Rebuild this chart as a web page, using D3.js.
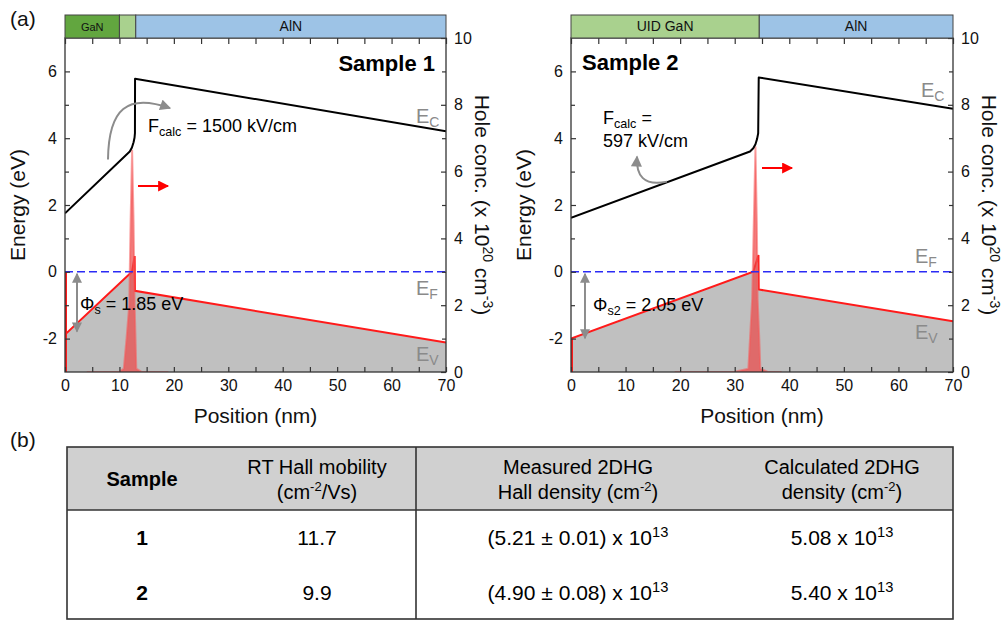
<!DOCTYPE html>
<html><head><meta charset="utf-8">
<script src="https://cdn.jsdelivr.net/npm/d3@7"></script>
<style>body{margin:0;background:#fff} svg{display:block} text{font-family:"Liberation Sans",Arial,Helvetica,sans-serif}</style>
</head><body><svg id="c" width="1003" height="620"></svg>
<script>
// ---------- DATA ----------
const xTicks=[0,10,20,30,40,50,60,70];
const xMinor=[5,15,25,35,45,55,65];
const eTicks=[-2,0,2,4,6];
const eMinor=[-1,1,3,5];
const hTicks=[0,2,4,6,8,10];
const hMinor=[1,3,5,7,9];

// Sample 1
const s1EcX=[0,11.9,12.3,12.6,12.78,12.85,12.87,70];
const s1EcY=[1.75,3.6,3.72,3.88,4.02,4.15,5.78,4.21];
const s1EvX=[0,12.3,12.8,12.85,70];
const s1EvY=[-1.88,0,0.47,-0.57,-2.12];
const s1HoleX=[4,10,10.8,11.3,11.8,12.05,12.33,12.6,12.8,12.96,13.1,14,19];
const s1HoleY=[0,0.01,0.1,1.0,2.0,4.5,6.65,4.5,2.0,1.0,0.1,0.01,0];
const s1HoleSurface=3.0;
const s1LayerNames=["GaN","","AlN"];
const s1LayerStart=[0,10,13];
const s1LayerEnd=[10,13,70];

// Sample 2
const s2EcX=[0,32.8,33.4,33.8,34.1,34.3,34.4,70];
const s2EcY=[1.62,3.6,3.7,3.82,3.98,4.15,5.82,4.88];
const s2EvX=[0,33.4,34.35,34.4,70];
const s2EvY=[-2.0,0,0.5,-0.53,-1.48];
const s2HoleX=[19,30,32.5,32.8,33.2,33.5,33.8,34.05,34.2,34.5,34.7,36,38.6];
const s2HoleY=[0,0.01,0.1,1.0,2.2,4.5,6.75,4.5,2.2,1.0,0.1,0.01,0];
const s2HoleSurface=1.0;
const s2LayerNames=["UID GaN","AlN"];
const s2LayerStart=[0,34.5];
const s2LayerEnd=[34.5,70];

const phi=[1.85,2.05];
const fcalc=["1500","597"];

// Table
const tableHeaders=[["Sample"],["RT Hall mobility","(cm|-2|/Vs)"],["Measured 2DHG","Hall density (cm|-2|)"],["Calculated 2DHG","density (cm|-2|)"]];
const sampleIds=["1","2"];
const mobility=["11.7","9.9"];
const measured=["(5.21 \u00b1 0.01) x 10|13|","(4.90 \u00b1 0.08) x 10|13|"];
const calculated=["5.08 x 10|13|","5.40 x 10|13|"];

// ---------- DRAW ----------
const svg=d3.select("#c");
const defs=svg.append("defs");
function marker(id,color,w,h){
  defs.append("marker").attr("id",id).attr("viewBox","0 0 10 10").attr("refX",9).attr("refY",5)
   .attr("markerWidth",w).attr("markerHeight",h).attr("markerUnits","userSpaceOnUse").attr("orient","auto-start-reverse")
   .append("path").attr("d","M0,0L10,5L0,10Z").attr("fill",color);
}
marker("ag","#8c8c8c",12,11);
marker("ar","#ff0000",12,11);
marker("ad","#8c8c8c",11,10);

function rich(g,x,y,str,opts){
  const t=g.append("text").attr("x",x).attr("y",y).attr("font-size",opts.size).attr("fill",opts.fill||"#000")
    .attr("text-anchor",opts.anchor||"start").attr("font-weight",opts.weight||"normal");
  const parts=str.split("|");
  let shifted=false;
  parts.forEach((p,i)=>{
    if(p==="")return;
    const sp=t.append("tspan").text(p);
    const isScript=i%2===1;
    if(isScript){
      sp.attr("font-size",opts.size*(opts.ss||0.65)).attr("dy",opts.mode==="sub"?opts.size*0.22:-opts.size*0.38);
      shifted=true;
    } else if(shifted){
      sp.attr("dy",opts.mode==="sub"?-opts.size*0.22:opts.size*0.38);
      shifted=false;
    }
  });
  return t;
}

function panel(o){
  const L=o.L,R=o.R,T=38,B=372;
  const x=d3.scaleLinear([0,70],[L,R]);
  const yE=d3.scaleLinear([-3,7],[B,T]);
  const yH=d3.scaleLinear([0,10],[B,T]);
  const g=svg.append("g");
  const cid="clip"+o.id;
  defs.append("clipPath").attr("id",cid).append("rect").attr("x",L).attr("y",T).attr("width",R-L).attr("height",B-T);
  const pg=g.append("g").attr("clip-path",`url(#${cid})`);

  const ev=o.evX.map((v,i)=>({x:v,y:o.evY[i]}));
  const ec=o.ecX.map((v,i)=>({x:v,y:o.ecY[i]}));
  const ho=o.hX.map((v,i)=>({x:v,y:o.hY[i]}));

  pg.append("path").datum(ev).attr("fill","#c0c0c0")
    .attr("d",d3.area().x(d=>x(d.x)).y0(yE(-3)).y1(d=>yE(d.y)));
  pg.append("path").datum(ev).attr("fill","none").attr("stroke","#ff1a1a").attr("stroke-width",2)
    .attr("d",d3.line().x(d=>x(d.x)).y(d=>yE(d.y)));
  pg.append("line").attr("x1",x(0)+1).attr("x2",x(0)+1).attr("y1",yH(0)).attr("y2",yH(o.hS))
    .attr("stroke","#ff1a1a").attr("stroke-width",2);
  pg.append("path").datum(ho).attr("fill","rgba(236,70,70,0.7)").attr("stroke","rgba(245,90,90,0.55)").attr("stroke-width",2)
    .attr("d",d3.area().x(d=>x(d.x)).y0(yH(0)).y1(d=>yH(d.y)));
  pg.append("path").datum(ec).attr("fill","none").attr("stroke","#000").attr("stroke-width",2).attr("stroke-linejoin","round")
    .attr("d",d3.line().x(d=>x(d.x)).y(d=>yE(d.y)));
  pg.append("line").attr("x1",x(0)).attr("x2",x(70)).attr("y1",yE(0)).attr("y2",yE(0))
    .attr("stroke","#2b2bf5").attr("stroke-width",1.6).attr("stroke-dasharray","8,4");

  g.append("rect").attr("x",L).attr("y",T).attr("width",R-L).attr("height",B-T).attr("fill","none").attr("stroke","#333").attr("stroke-width",1.3);
  function ax(gen,tr,vals,size,fmt){
    const a=g.append("g").attr("transform",tr).call(gen.tickValues(vals).tickSize(size).tickPadding(8).tickFormat(fmt));
    a.select(".domain").remove();
    a.selectAll("line").attr("stroke","#333").attr("stroke-width",1.2);
    a.selectAll("text").attr("font-size",16).attr("fill","#111").attr("font-family",'"Liberation Sans",Arial,sans-serif');
    return a;
  }
  const fmt=d=>String(d);
  ax(d3.axisBottom(x),`translate(0,${B})`,xTicks,-5,fmt);
  ax(d3.axisBottom(x),`translate(0,${B})`,xMinor,-5,()=>"");
  ax(d3.axisTop(x),`translate(0,${T})`,xTicks.concat(xMinor),-6,()=>"");
  ax(d3.axisLeft(yE),`translate(${L},0)`,eTicks,-5,fmt);
  ax(d3.axisLeft(yE),`translate(${L},0)`,eMinor,-4,()=>"");
  ax(d3.axisRight(yH),`translate(${R},0)`,hTicks,-5,fmt);
  ax(d3.axisRight(yH),`translate(${R},0)`,hMinor,-4,()=>"");

  const hg=g.append("g");
  o.lN.forEach((n,i)=>{
    hg.append("rect").attr("x",x(o.lS[i])).attr("y",15).attr("width",x(o.lE[i])-x(o.lS[i])).attr("height",T-15)
      .attr("fill",o.lC[i]).attr("stroke","#444").attr("stroke-width",1);
    if(n) hg.append("text").attr("x",(x(o.lS[i])+x(o.lE[i]))/2).attr("y",31).attr("text-anchor","middle")
      .attr("font-size",o.lF[i]).attr("fill","#111").text(n);
  });

  g.append("text").attr("transform",`translate(${L-40},${(T+B)/2}) rotate(-90)`).attr("text-anchor","middle")
    .attr("font-size",21).attr("fill","#111").text("Energy (eV)");
  const ht=g.append("text").attr("transform",`translate(${R+29},${(T+B)/2}) rotate(90)`).attr("text-anchor","middle")
    .attr("font-size",21).attr("fill","#111");
  ht.append("tspan").text("Hole conc. (x 10");
  ht.append("tspan").text("20").attr("font-size",14).attr("dy",-8);
  ht.append("tspan").text(" cm").attr("dy",8);
  ht.append("tspan").text("-3").attr("font-size",14).attr("dy",-8);
  ht.append("tspan").text(")").attr("dy",8);
  g.append("text").attr("x",(L+R)/2).attr("y",423).attr("text-anchor","middle").attr("font-size",21).attr("fill","#111").text("Position (nm)");

  const gl=g.append("g");
  rich(gl,o.ecLab[0],o.ecLab[1],"E|C|",{size:20,fill:"#8a8a8a",mode:"sub",ss:0.7});
  rich(gl,o.efLab[0],o.efLab[1],"E|F|",{size:20,fill:"#8a8a8a",mode:"sub",ss:0.7});
  rich(gl,o.evLab[0],o.evLab[1],"E|V|",{size:20,fill:"#8a8a8a",mode:"sub",ss:0.7});

  g.append("text").attr("x",o.title[0]).attr("y",o.title[1]).attr("text-anchor",o.title[2]).attr("font-size",22)
    .attr("font-weight","bold").attr("fill","#000").text(o.name);

  g.append("line").attr("x1",x(o.phiX)).attr("x2",x(o.phiX)).attr("y1",yE(0)+2).attr("y2",yE(-o.phi)-2)
    .attr("stroke","#8c8c8c").attr("stroke-width",2).attr("marker-start","url(#ad)").attr("marker-end","url(#ad)");
  rich(g,o.phiLab[0],o.phiLab[1],"\u03a6|"+o.phiSub+"| = "+o.phi.toFixed(2)+" eV",{size:18,mode:"sub",ss:0.7});

  g.append("line").attr("x1",o.redArr[0]).attr("x2",o.redArr[1]).attr("y1",o.redArr[2]).attr("y2",o.redArr[2])
    .attr("stroke","#ff0000").attr("stroke-width",2).attr("marker-end","url(#ar)");

  const p=o.curve.map(d=>[x(d[0]),yE(d[1])]);
  g.append("path").attr("d",`M${p[0]}C${p[1]} ${p[2]} ${p[3]}`).attr("fill","none").attr("stroke","#8c8c8c").attr("stroke-width",2)
    .attr("marker-end","url(#ag)");

  o.fText.forEach(t=>rich(g,t[0],t[1],t[2],{size:18,mode:"sub",ss:0.7}));
}

panel({id:1,L:65,R:446,name:"Sample 1",title:[435,71,"end"],
  ecX:s1EcX,ecY:s1EcY,evX:s1EvX,evY:s1EvY,hX:s1HoleX,hY:s1HoleY,hS:s1HoleSurface,
  lN:s1LayerNames,lS:s1LayerStart,lE:s1LayerEnd,lC:["#62a63f","#a9d18e","#9dc3e6"],lF:[11,14,14],
  ecLab:[416,123],efLab:[416,295],evLab:[416,361],
  phi:phi[0],phiX:2.2,phiSub:"s",phiLab:[80,310],
  redArr:[138,168,186],
  curve:[[7.9,3.36],[8.0,4.9],[11.5,5.35],[19.3,4.9]],
  fText:[[148,132,"F|calc| = "+fcalc[0]+" kV/cm"]]});

panel({id:2,L:571,R:953,name:"Sample 2",title:[582,70,"start"],
  ecX:s2EcX,ecY:s2EcY,evX:s2EvX,evY:s2EvY,hX:s2HoleX,hY:s2HoleY,hS:s2HoleSurface,
  lN:s2LayerNames,lS:s2LayerStart,lE:s2LayerEnd,lC:["#a9d18e","#9dc3e6"],lF:[14,14],
  ecLab:[921,97],efLab:[915,263],evLab:[915,339],
  phi:phi[1],phiX:2.56,phiSub:"s2",phiLab:[593,311],
  redArr:[762,792,168],
  curve:[[17.6,2.7],[13.2,2.55],[11.9,2.9],[12.1,3.45]],
  fText:[[603,124,"F|calc| ="],[603,147,fcalc[1]+" kV/cm"]]});

svg.append("text").attr("x",10).attr("y",26).attr("font-size",21).attr("fill","#111").text("(a)");
svg.append("text").attr("x",10).attr("y",447).attr("font-size",21).attr("fill","#111").text("(b)");

// ---------- TABLE ----------
const tb=svg.append("g");
const TL=67,TR=953,TT=447,TH=510,TB=619,TD=416;
const colX=[142,317,578,842];
tb.append("rect").attr("x",TL).attr("y",TT).attr("width",TR-TL).attr("height",TH-TT).attr("fill","#d0d0d0");
tb.append("rect").attr("x",TL).attr("y",TT).attr("width",TR-TL).attr("height",TB-TT).attr("fill","none").attr("stroke","#333").attr("stroke-width",1.6);
tb.append("line").attr("x1",TL).attr("x2",TR).attr("y1",TH).attr("y2",TH).attr("stroke","#333").attr("stroke-width",1.4);
tb.append("line").attr("x1",TD).attr("x2",TD).attr("y1",TT).attr("y2",TB).attr("stroke","#333").attr("stroke-width",1.6);
tableHeaders.forEach((h,i)=>{
  if(h.length===1) rich(tb,colX[i],486,h[0],{size:20,anchor:"middle",weight:"bold",mode:"sup"});
  else { rich(tb,colX[i],474,h[0],{size:20,anchor:"middle",mode:"sup"}); rich(tb,colX[i],499,h[1],{size:20,anchor:"middle",mode:"sup"}); }
});
const rowY=[545,600];
sampleIds.forEach((s,r)=>{
  rich(tb,colX[0],rowY[r],s,{size:21,anchor:"middle",weight:"bold",mode:"sup"});
  rich(tb,colX[1],rowY[r],mobility[r],{size:21,anchor:"middle",mode:"sup"});
  rich(tb,colX[2],rowY[r],measured[r],{size:21,anchor:"middle",mode:"sup",ss:0.7});
  rich(tb,colX[3],rowY[r],calculated[r],{size:21,anchor:"middle",mode:"sup",ss:0.7});
});
</script></body></html>
